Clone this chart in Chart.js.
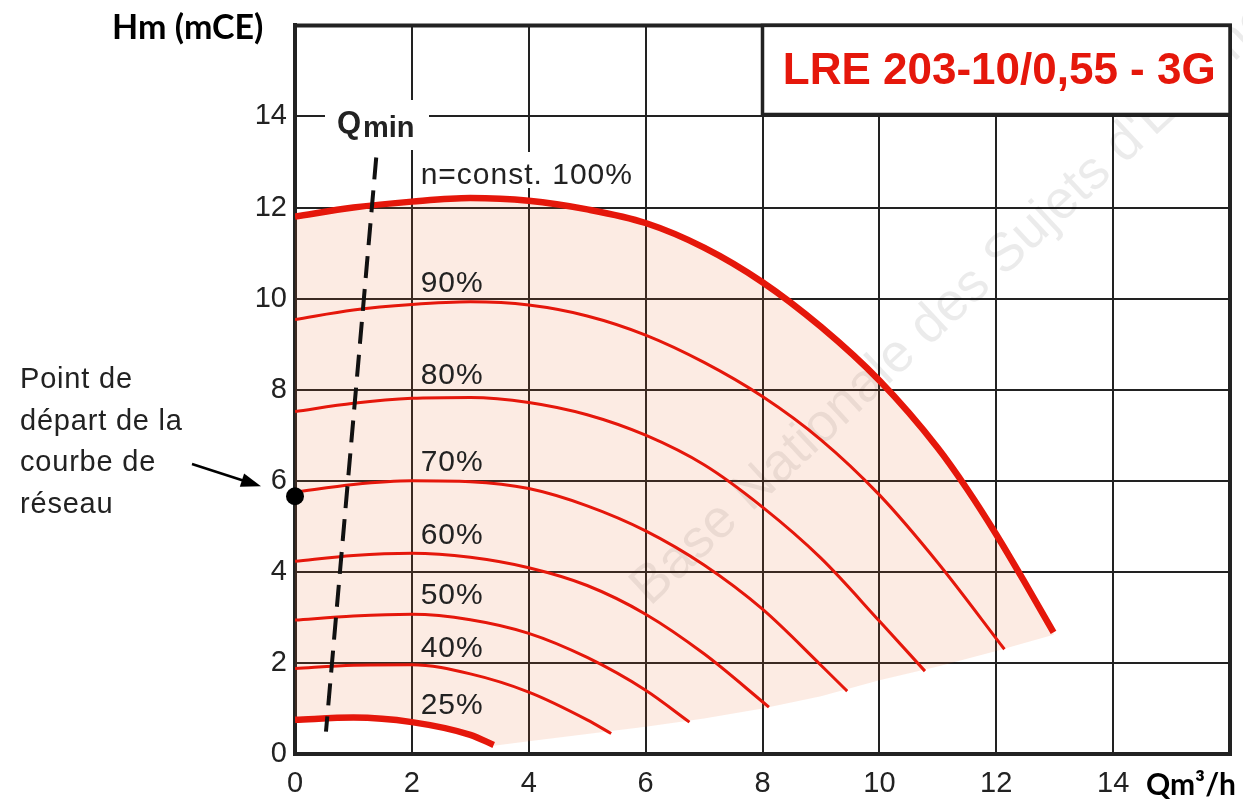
<!DOCTYPE html>
<html>
<head>
<meta charset="utf-8">
<script src="https://cdn.jsdelivr.net/npm/chart.js@4/dist/chart.umd.min.js"></script>
<style>
  html, body { margin: 0; padding: 0; background: #fff; }
</style>
</head>
<body>
<canvas id="pumpChart" width="1243" height="803"></canvas>
<script>
// =============== Données (Q en m3/h, Hm en mCE)
const flow100 = [0, 1, 2, 3, 4, 5, 6, 7, 8, 9, 10, 11, 11.5, 12, 12.5, 12.98];
const head100 = [11.8, 12.0, 12.13, 12.21, 12.15, 11.96, 11.66, 11.12, 10.36, 9.38, 8.2, 6.72, 5.82, 4.82, 3.74, 2.67];

const flow90 = [0, 1, 2, 3, 4, 5, 6, 7, 8, 9, 10, 11, 12.14];
const head90 = [9.54, 9.75, 9.87, 9.93, 9.86, 9.62, 9.2, 8.6, 7.85, 6.9, 5.69, 4.2, 2.3];

const flow80 = [0, 1, 2, 3, 4, 5, 6, 7, 8, 9, 10, 10.78];
const head80 = [7.52, 7.7, 7.81, 7.83, 7.72, 7.45, 7.0, 6.35, 5.42, 4.3, 2.92, 1.82];

const flow70 = [0, 1, 2, 3, 4, 5, 6, 7, 8, 9, 9.45];
const head70 = [5.75, 5.92, 6.0, 5.98, 5.83, 5.45, 4.9, 4.15, 3.18, 1.95, 1.38];

const flow60 = [0, 1, 2, 3, 4, 5, 6, 7, 8.11];
const head60 = [4.23, 4.36, 4.41, 4.32, 4.09, 3.7, 3.07, 2.2, 1.03];

const flow50 = [0, 1, 2, 3, 4, 5, 6, 6.75];
const head50 = [2.94, 3.03, 3.07, 2.95, 2.65, 2.12, 1.4, 0.7];

const flow40 = [0, 1, 2, 3, 4, 5, 5.41];
const head40 = [1.88, 1.95, 1.96, 1.76, 1.36, 0.75, 0.45];

const flow25 = [0, 1, 2, 3, 3.4];
const head25 = [0.75, 0.8, 0.7, 0.42, 0.2];

// limite basse de la zone de fonctionnement
const flowLow = [3.4, 4, 5, 6, 7, 8, 9, 10, 11, 12, 12.98];
const headLow = [0.18, 0.28, 0.44, 0.6, 0.78, 1.0, 1.27, 1.62, 1.92, 2.26, 2.62];

// Qmin
const qminFlow = [1.39, 0.53];
const qminHead = [13.1, 0.49];

// point de départ de la courbe de réseau
const startFlow = [0];
const startHead = [5.66];

const speedLabels = ['n=const. 100%', '90%', '80%', '70%', '60%', '50%', '40%', '25%'];
const xTicks = [0, 2, 4, 6, 8, 10, 12, 14];
const yTicks = [0, 2, 4, 6, 8, 10, 12, 14];

const RED = '#e5170b';
const INK = '#222222';

function pts(xs, ys) {
    return xs.map((x, i) => ({ x: x, y: ys[i] }));
}

// zone rose : 100% -> limite basse (retour) -> 25% (retour)
const zone = pts(flow100, head100)
    .concat(pts(flowLow, headLow).reverse())
    .concat(pts(flow25, head25).reverse());

function curve(xs, ys, width) {
    return {
        data: pts(xs, ys),
        showLine: true,
        borderColor: RED,
        borderWidth: width,
        pointRadius: 0,
        cubicInterpolationMode: 'monotone',
        fill: false,
        order: 2
    };
}

// =============== Textes et cadre
const annotations = {
    id: 'annotations',
    beforeDatasetsDraw(chart) {
        const ctx = chart.ctx;
        // filigrane
        ctx.save();
        ctx.translate(650, 607);
        ctx.rotate(-43 * Math.PI / 180);
        ctx.font = '300 54px "Liberation Sans"';
        ctx.fillStyle = 'rgba(0,0,0,0.08)';
        ctx.textBaseline = 'alphabetic';
        ctx.fillText("Base Nationale des Sujets d'Examens", 0, 0);
        ctx.restore();
    },
    afterDatasetsDraw(chart) {
        const ctx = chart.ctx;
        const xs = chart.scales.x, ys = chart.scales.y;
        const area = chart.chartArea;

        // cadre haut / droite
        ctx.save();
        ctx.strokeStyle = INK;
        ctx.lineWidth = 4;
        ctx.beginPath();
        ctx.moveTo(area.left - 2, area.top);
        ctx.lineTo(area.right, area.top);
        ctx.lineTo(area.right, area.bottom + 2);
        ctx.stroke();

        // cartouche
        const bx = xs.getPixelForValue(8), by = ys.getPixelForValue(14);
        ctx.fillStyle = '#fff';
        ctx.fillRect(bx, area.top, area.right - bx, by - area.top - 2);
        ctx.lineWidth = 3.5;
        ctx.strokeRect(bx, area.top, area.right - bx, by - area.top - 2);
        ctx.fillStyle = RED;
        ctx.font = 'bold 44px "Liberation Sans"';
        ctx.textAlign = 'center';
        ctx.textBaseline = 'alphabetic';
        ctx.fillText('LRE 203-10/0,55 - 3G', (bx + area.right) / 2 + 3, 84);

        // étiquettes des vitesses
        ctx.font = '30px "Liberation Sans"';
        ctx.letterSpacing = '1px';
        ctx.textAlign = 'left';
        const lx = xs.getPixelForValue(2.15);
        const ly = [12.74, 10.38, 8.36, 6.45, 4.85, 3.52, 2.36, 1.11];
        // fond blanc derrière "n=const. 100%"
        ctx.fillStyle = '#fff';
        ctx.fillRect(lx - 4, 152, 224, 36);
        ctx.fillStyle = INK;
        speedLabels.forEach((t, i) => {
            ctx.fillText(t, lx, ys.getPixelForValue(ly[i]) + 10.5);
        });
        ctx.letterSpacing = '0px';

        // Qmin
        ctx.fillStyle = '#fff';
        ctx.fillRect(325, 100, 104, 50);
        ctx.fillStyle = INK;
        ctx.font = 'bold 31px "Liberation Sans"';
        ctx.fillText('Q', 337, 133);
        ctx.font = 'bold 29px "Liberation Sans"';
        ctx.fillText('min', 363, 137);

        // titres des axes
        ctx.fillStyle = '#000';
        ctx.font = 'bold 34px Lato';
        ctx.fillText('Hm (mCE)', 112, 39);
        ctx.font = 'bold 30px Lato';
        ctx.fillText('Qm³/h', 1146, 795);

        // annotation du point de départ
        ctx.fillStyle = INK;
        ctx.font = '29px "Liberation Sans"';
        ctx.letterSpacing = '0.8px';
        ['Point de', 'départ de la', 'courbe de', 'réseau'].forEach((t, i) => {
            ctx.fillText(t, 20, 388 + i * 41.7);
        });
        ctx.letterSpacing = '0px';
        const tipX = xs.getPixelForValue(startFlow[0]) - 34;
        const tipY = ys.getPixelForValue(startHead[0]) - 10;
        const sx = 192, sy = 464;
        const ang = Math.atan2(tipY - sy, tipX - sx);
        ctx.strokeStyle = '#000';
        ctx.lineWidth = 2.5;
        ctx.beginPath();
        ctx.moveTo(sx, sy);
        ctx.lineTo(tipX - 14 * Math.cos(ang), tipY - 14 * Math.sin(ang));
        ctx.stroke();
        ctx.fillStyle = '#000';
        ctx.beginPath();
        ctx.moveTo(tipX, tipY);
        ctx.lineTo(tipX - 20 * Math.cos(ang) + 7 * Math.sin(ang), tipY - 20 * Math.sin(ang) - 7 * Math.cos(ang));
        ctx.lineTo(tipX - 20 * Math.cos(ang) - 7 * Math.sin(ang), tipY - 20 * Math.sin(ang) + 7 * Math.cos(ang));
        ctx.closePath();
        ctx.fill();
        ctx.restore();
    }
};

// =============== Graphique
const pump_chart = document.getElementById('pumpChart');

new Chart(pump_chart, {
    type: 'scatter',
    data: {
        datasets: [
            {
                data: pts(startFlow, startHead),
                pointRadius: 9,
                pointBackgroundColor: '#000',
                pointBorderWidth: 0,
                clip: false,
                order: 0
            },
            {
                data: pts(qminFlow, qminHead),
                showLine: true,
                borderColor: '#111',
                borderWidth: 4,
                borderDash: [22, 11],
                pointRadius: 0,
                order: 1
            },
            curve(flow100, head100, 6.5),
            curve(flow90, head90, 3),
            curve(flow80, head80, 3),
            curve(flow70, head70, 3),
            curve(flow60, head60, 3),
            curve(flow50, head50, 3),
            curve(flow40, head40, 3),
            curve(flow25, head25, 6.5),
            {
                data: zone,
                showLine: true,
                borderWidth: 0,
                pointRadius: 0,
                tension: 0,
                fill: 'shape',
                backgroundColor: 'rgba(232,101,40,0.13)',
                order: 10
            }
        ]
    },
    options: {
        responsive: false,
        animation: false,
        devicePixelRatio: 1,
        layout: { padding: { top: 20, right: 8, left: 0, bottom: 0 } },
        plugins: {
            legend: { display: false },
            tooltip: { enabled: false }
        },
        scales: {
            x: {
                type: 'linear',
                min: 0,
                max: 16,
                afterBuildTicks: (axis) => {
                    axis.ticks = xTicks.concat([16]).map(v => ({ value: v }));
                },
                afterFit: (axis) => { axis.height = 49; },
                ticks: {
                    padding: 13,
                    color: INK,
                    font: { family: 'Liberation Sans', size: 29 },
                    maxRotation: 0,
                    callback: (v) => (xTicks.includes(v) ? String(v) : '')
                },
                grid: { color: INK, lineWidth: 2, drawTicks: false },
                border: { display: true, color: INK, width: 4 }
            },
            y: {
                type: 'linear',
                min: 0,
                max: 16,
                afterBuildTicks: (axis) => {
                    axis.ticks = yTicks.concat([16]).map(v => ({ value: v }));
                },
                afterFit: (axis) => { axis.width = 295; },
                ticks: {
                    padding: 8,
                    color: INK,
                    font: { family: 'Liberation Sans', size: 29 },
                    callback: (v) => (yTicks.includes(v) ? String(v) : '')
                },
                grid: { color: INK, lineWidth: 2, drawTicks: false },
                border: { display: true, color: INK, width: 4 }
            }
        }
    },
    plugins: [annotations]
});
</script>
</body>
</html>
